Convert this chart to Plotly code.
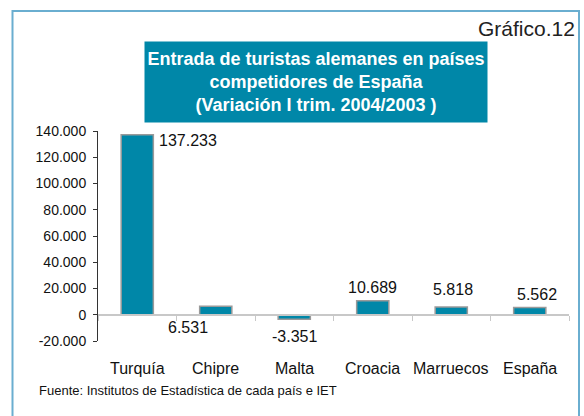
import plotly.graph_objects as go

# ---- data ----
categories = ["Turquía", "Chipre", "Malta", "Croacia", "Marruecos", "España"]
values = [137233, 6531, -3351, 10689, 5818, 5562]
y_tick_values = [-20000, 0, 20000, 40000, 60000, 80000, 100000, 120000, 140000]
y_tick_labels = ["-20.000", "0", "20.000", "40.000", "60.000", "80.000",
                 "100.000", "120.000", "140.000"]
title_lines = ["Entrada de turistas alemanes en países",
               "competidores de España",
               "(Variación I trim. 2004/2003 )"]
chart_id = "Gráfico.12"
source_text = "Fuente: Institutos de Estadística de cada país e IET"

# ---- style ----
TEAL = "#0087a8"
FONT = "Liberation Sans, Arial, sans-serif"
W, H = 584, 416
L, R, T, B = 98, 15, 131, 75
PW, PH = W - L - R, H - T - B
Y_MIN, Y_MAX = -20000, 140000


def px_x(px):
    return (px - L) / PW


def px_y(py):
    return (H - B - py) / PH


def fmt(v):
    return f"{v:,}".replace(",", ".")


fig = go.Figure()
fig.add_trace(go.Bar(
    x=categories, y=values, width=0.41,
    marker=dict(color=TEAL, line=dict(color="#9a9a9a", width=1.5)),
    hoverinfo="skip",
))

# data label placement offsets (pixels), per bar
label_pos = [
    dict(xanchor="left", xshift=20, yshift=-6),
    dict(xanchor="center", xshift=-28, yshift=-21),
    dict(xanchor="center", xshift=0, yshift=-17),
    dict(xanchor="center", xshift=0, yshift=13),
    dict(xanchor="center", xshift=2, yshift=18),
    dict(xanchor="center", xshift=7, yshift=12.5),
]
for c, v, p in zip(categories, values, label_pos):
    fig.add_annotation(x=c, y=v, xref="x", yref="y", text=fmt(v),
                       showarrow=False, yanchor="middle",
                       font=dict(family=FONT, size=16, color="#111"), **p)

# category labels
for c in categories:
    fig.add_annotation(x=c, y=0, xref="x", yref="paper", text=c,
                       showarrow=False, yanchor="middle", yshift=-27,
                       font=dict(family=FONT, size=16, color="#111"))

# title box
fig.add_annotation(x=px_x(316), y=px_y(82), xref="paper", yref="paper",
                   text="<br>".join(title_lines), showarrow=False,
                   xanchor="center", yanchor="middle",
                   width=342, height=80, borderpad=0, bgcolor=TEAL,
                   font=dict(family=FONT, size=18, color="white", weight="bold"))

# chart id
fig.add_annotation(x=px_x(577), y=px_y(28), xref="paper", yref="paper",
                   text=chart_id, showarrow=False, xanchor="right",
                   yanchor="middle",
                   font=dict(family=FONT, size=21, color="#222"))

# source
fig.add_annotation(x=px_x(37), y=px_y(390), xref="paper", yref="paper",
                   text=source_text, showarrow=False, xanchor="left",
                   yanchor="middle",
                   font=dict(family=FONT, size=13, color="#111"))

# frame
fig.add_shape(type="rect", xref="paper", yref="paper",
              x0=px_x(12.5), x1=px_x(579), y0=px_y(430), y1=px_y(11),
              line=dict(color="#6aaed0", width=2), fillcolor="rgba(0,0,0,0)",
              layer="below")

fig.update_layout(
    width=W, height=H,
    margin=dict(l=L, r=R, t=T, b=B, autoexpand=False),
    paper_bgcolor="white", plot_bgcolor="white",
    showlegend=False,
    font=dict(family=FONT, color="#111"),
    xaxis=dict(
        type="category", anchor="free",
        position=(0 - Y_MIN) / (Y_MAX - Y_MIN),
        showline=True, linecolor="#c8c8c8", linewidth=1.5,
        ticks="outside", tickson="boundaries", ticklen=5,
        tickcolor="#c8c8c8", tickwidth=1,
        showticklabels=False, showgrid=False, zeroline=False,
        range=[-0.5, len(categories) - 0.5],
    ),
    yaxis=dict(
        range=[Y_MIN, Y_MAX],
        tickmode="array", tickvals=y_tick_values, ticktext=y_tick_labels,
        showline=True, linecolor="#333", linewidth=1,
        ticks="outside", ticklen=4, tickcolor="#333",
        showgrid=False, zeroline=False,
        ticklabelstandoff=4,
        tickfont=dict(family=FONT, size=14, color="#111"),
    ),
)

fig.write_html("out.html",
               config={"displayModeBar": False},
               post_script="document.body.style.margin='0';"
                           "document.body.style.overflow='hidden';")
